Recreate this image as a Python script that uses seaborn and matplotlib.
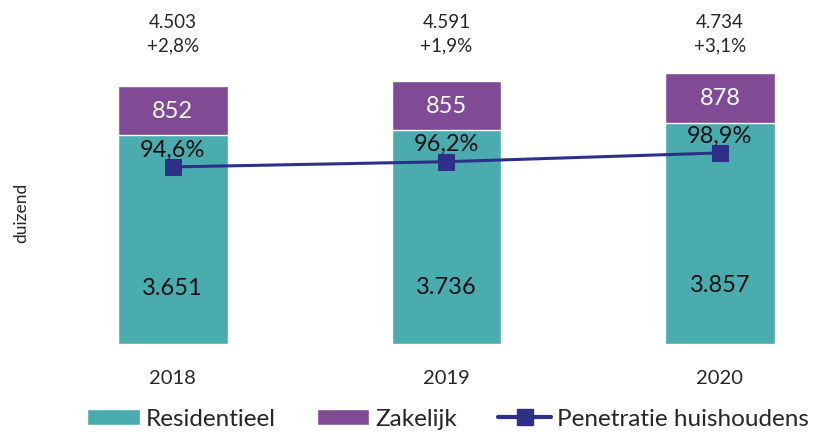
import numpy as np
import pandas as pd
import matplotlib
matplotlib.use("Agg")
import matplotlib.pyplot as plt
import seaborn as sns
from matplotlib.patches import Patch
from matplotlib.lines import Line2D

# data (duizend aansluitingen)
years = ["2018", "2019", "2020"]
residentieel = [3651, 3736, 3857]
zakelijk = [852, 855, 878]
totaal = [4503, 4591, 4734]
groei = [2.8, 1.9, 3.1]
penetratie = [94.6, 96.2, 98.9]

TEAL = "#4BACB0"
PURPLE = "#804A94"
NAVY = "#2E3087"


# Dutch number format: 3.651 / 94,6
def nl(x, dec=0):
    s = f"{x:,.{dec}f}"
    return s.replace(",", "X").replace(".", ",").replace("X", ".")


df = pd.DataFrame({"jaar": years, "Residentieel": residentieel, "Zakelijk": zakelijk,
                   "Totaal": totaal, "Penetratie": penetratie})

sns.set_style("white")
plt.rcParams["font.family"] = ["Lato", "DejaVu Sans"]

fig = plt.figure(figsize=(8.14, 4.35), dpi=100)
ax = fig.add_axes([36 / 814, 90 / 435, 766 / 814, 345 / 435])

# stacked look: total bar in purple, residential bar over it in teal
sns.barplot(data=df, x="jaar", y="Totaal", color=PURPLE, saturation=1, width=0.4, ax=ax)
sns.barplot(data=df, x="jaar", y="Residentieel", color=TEAL, saturation=1, width=0.4, ax=ax)

ax.set_ylim(0, 6020)
ax.set_xlabel("")
ax.set_ylabel("")
ax.set_yticks([])
for s in ax.spines.values():
    s.set_visible(False)
ax.tick_params(axis="x", length=0, pad=18, labelsize=14.5)

for i, row in df.iterrows():
    ax.text(i, row["Residentieel"] * 0.27, nl(row["Residentieel"]),
            ha="center", va="center", fontsize=17, color="#111111")
    ax.text(i, row["Residentieel"] + row["Zakelijk"] / 2, nl(row["Zakelijk"]),
            ha="center", va="center", fontsize=17, color="white")
    # totals sit at a fixed height above the bars
    ax.text(i, 0.9, f"{nl(row['Totaal'])}\n+{nl(groei[i], 1)}%",
            transform=ax.get_xaxis_transform(), ha="center", va="center",
            fontsize=13.5, linespacing=1.45)

# penetration line on hidden secondary axis
ax2 = ax.twinx()
sns.lineplot(x=np.arange(len(years)), y=df["Penetratie"], ax=ax2, color=NAVY,
             marker="s", markersize=11, markeredgecolor=NAVY, linewidth=2.2)
ax2.set_ylim(40.3, 146.1)
ax2.set_ylabel("")
ax2.set_yticks([])
for s in ax2.spines.values():
    s.set_visible(False)
for i, p in enumerate(penetratie):
    ax2.annotate(f"{nl(p, 1)}%", (i, p), xytext=(0, 13), textcoords="offset points",
                 ha="center", va="center", fontsize=17, color="#111111")

ax.set_xlim(-0.5, 2.3)

fig.text(21 / 814, 1 - 213 / 435, "duizend", rotation=90, ha="center", va="center", fontsize=12.5)

handles = [Patch(facecolor=TEAL, label="Residentieel"),
           Patch(facecolor=PURPLE, label="Zakelijk"),
           Line2D([0], [0], color=NAVY, lw=3, marker="s", markersize=11,
                  label="Penetratie huishoudens")]
fig.legend(handles=handles, loc="center", bbox_to_anchor=(448 / 814, 1 - 420 / 435),
           ncol=3, frameon=False, fontsize=17.5, handlelength=2.15, handleheight=0.62,
           handletextpad=0.25, columnspacing=1.7)

fig.savefig("out.png", dpi=100)
